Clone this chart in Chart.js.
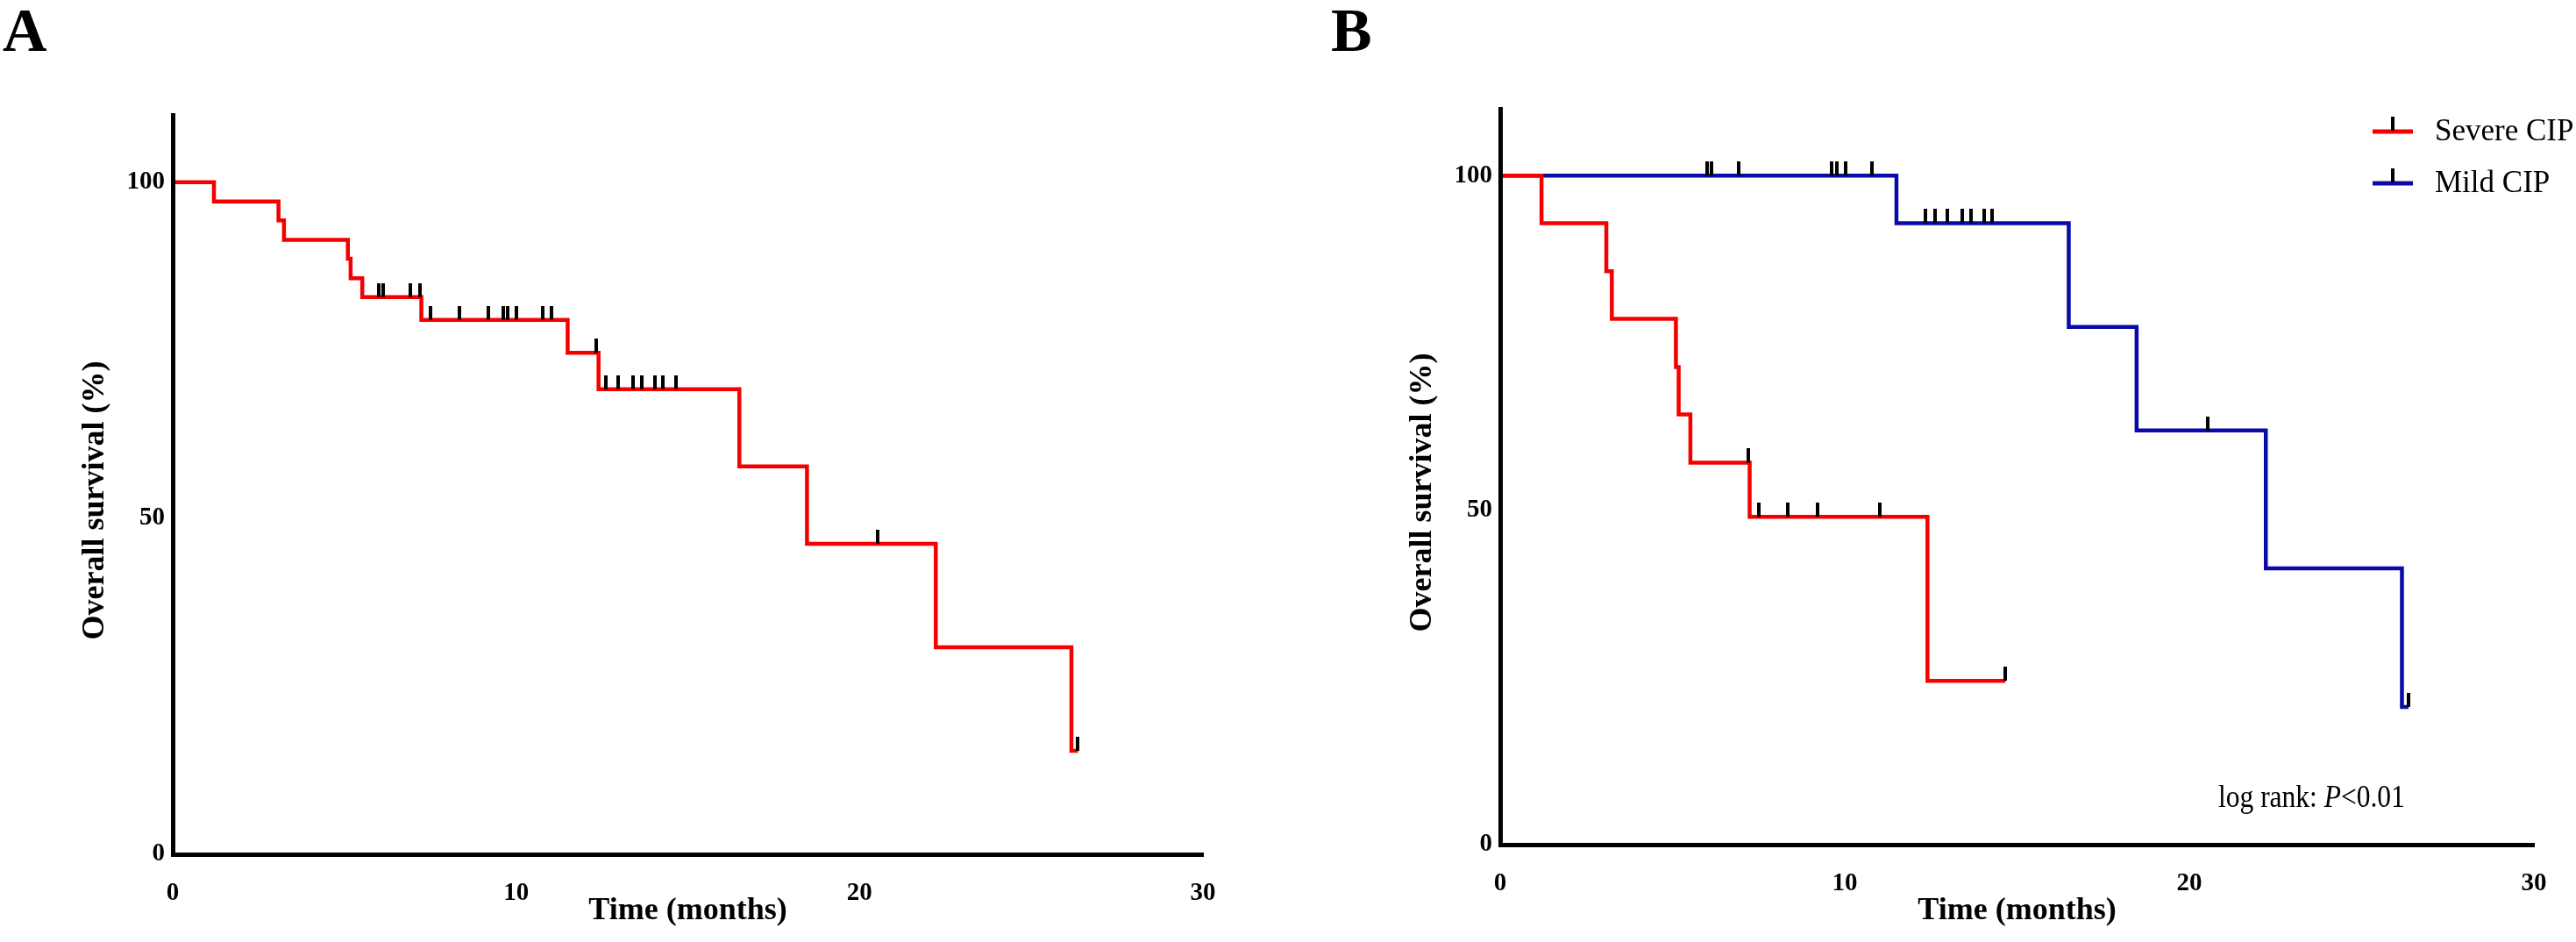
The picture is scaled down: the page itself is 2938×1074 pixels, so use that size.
<!DOCTYPE html>
<html>
<head>
<meta charset="utf-8">
<script src="https://cdn.jsdelivr.net/npm/chart.js@4.4.0/dist/chart.umd.min.js"></script>
<style>
  html, body { margin: 0; padding: 0; background: #fff; }
  #wrap { position: relative; width: 2938px; height: 1074px; background: #fff; overflow: hidden; }
  canvas { position: absolute; top: 0; }
  #cA { left: 0; }
  #cB { left: 1469px; }
</style>
</head>
<body>
<div id="wrap">
  <canvas id="cA" width="1469" height="1074"></canvas>
  <canvas id="cB" width="1469" height="1074"></canvas>
</div>
<script>
// ---------------- data ----------------
const xTicks = [0, 10, 20, 30];
const yTicks = [0, 50, 100];

// Panel A: all patients
const allTimes = [0, 1.2, 3.08, 3.24, 5.1, 5.18, 5.52, 7.24, 11.5, 12.4, 16.5, 18.47, 22.22, 26.17, 26.36];
const allSurv  = [100, 97.1, 94.3, 91.4, 88.6, 85.7, 82.9, 79.5, 74.6, 69.2, 57.7, 46.2, 30.8, 15.4, 15.4];
const allCensTimes = [6.0, 6.12, 6.93, 7.19, 7.5, 8.35, 9.2, 9.62, 9.76, 10.02, 10.78, 11.02, 12.34, 12.62, 12.98, 13.41, 13.67, 14.05, 14.28, 14.66, 20.53, 26.36];
const allCensSurv  = [82.9, 82.9, 82.9, 82.9, 79.5, 79.5, 79.5, 79.5, 79.5, 79.5, 79.5, 79.5, 74.6, 69.2, 69.2, 69.2, 69.2, 69.2, 69.2, 69.2, 46.2, 15.4];

// Panel B: Severe CIP
const sevTimes = [0, 1.2, 3.08, 3.24, 5.1, 5.18, 5.52, 7.24, 12.4, 14.66];
const sevSurv  = [100, 92.9, 85.7, 78.6, 71.4, 64.3, 57.1, 49.0, 24.5, 24.5];
const sevCensTimes = [7.19, 7.5, 8.35, 9.2, 11.02, 14.66];
const sevCensSurv  = [57.1, 49.0, 49.0, 49.0, 49.0, 24.5];

// Panel B: Mild CIP
const mildTimes = [0, 11.5, 16.5, 18.47, 22.22, 26.17, 26.36];
const mildSurv  = [100, 92.9, 77.4, 61.9, 41.3, 20.6, 20.6];
const mildCensTimes = [6.0, 6.12, 6.93, 9.62, 9.76, 10.02, 10.78, 12.34, 12.62, 12.98, 13.41, 13.67, 14.05, 14.28, 20.53, 26.36];
const mildCensSurv  = [100, 100, 100, 100, 100, 100, 100, 92.9, 92.9, 92.9, 92.9, 92.9, 92.9, 92.9, 61.9, 20.6];

const seriesLabels = ['Severe CIP', 'Mild CIP'];
const xTitle = 'Time (months)';
const yTitle = 'Overall survival (%)';
const pText = ['log rank: ', 'P', '<0.01'];

// ---------------- styling ----------------
const FONT = "'Liberation Serif', 'Times New Roman', Times, serif";
const RED = '#f40000';
const BLUE = '#0a0aa8';
Chart.defaults.font.family = FONT;
Chart.defaults.color = '#000';

function pts(xs, ys) { return xs.map((x, i) => ({ x: x, y: ys[i] })); }

// censor tick image: black bar in the upper half, so it rises from the point
const tick = document.createElement('canvas');
tick.width = 4; tick.height = 32;
(function () { const c = tick.getContext('2d'); c.fillStyle = '#000'; c.fillRect(0, 0, 4, 16); })();

function lineDs(label, data, color, order) {
  return { label, data, borderColor: color, backgroundColor: color, borderWidth: 4.5,
           stepped: 'before', pointRadius: 0, fill: false, tension: 0,
           borderJoinStyle: 'miter', borderCapStyle: 'butt', order };
}
function censDs(label, data) {
  return { label, data, showLine: false, pointStyle: tick, pointRadius: 8,
           pointHoverRadius: 8, order: 0 };
}

const annot = {
  id: 'annot',
  afterDraw(chart, args, o) {
    const ctx = chart.ctx, ca = chart.chartArea;
    ctx.save();
    ctx.fillStyle = '#000';
    // panel letter
    ctx.font = 'bold 70px ' + FONT;
    ctx.textAlign = 'left'; ctx.textBaseline = 'alphabetic';
    ctx.fillText(o.letter, ca.left + o.letterDx, 58);
    // y-axis title
    ctx.save();
    ctx.translate(ca.left - 88, (ca.top + ca.bottom) / 2 + 18);
    ctx.rotate(-Math.PI / 2);
    ctx.font = 'bold 36px ' + FONT;
    ctx.textAlign = 'center'; ctx.textBaseline = 'middle';
    ctx.fillText(yTitle, 0, 0);
    ctx.restore();
    if (o.legend) {
      const x0 = ca.right - 184;
      o.legend.forEach((it, i) => {
        const y = ca.top + 26 + i * 59;
        ctx.fillStyle = it.color;
        ctx.fillRect(x0, y - 2.5, 46, 5);
        ctx.fillStyle = '#000';
        ctx.fillRect(x0 + 21, y - 17, 4, 16);
        ctx.font = '35px ' + FONT;
        ctx.textAlign = 'left'; ctx.textBaseline = 'middle';
        ctx.fillText(it.label, x0 + 71, y + 1);
      });
    }
    if (o.pvalue) {
      ctx.save();
      ctx.translate(ca.left + 819, ca.bottom - 43);
      ctx.scale(0.9, 1);
      ctx.textAlign = 'left'; ctx.textBaseline = 'alphabetic';
      let x = 0;
      ctx.font = '35px ' + FONT; ctx.fillText(pText[0], x, 0); x += ctx.measureText(pText[0]).width;
      ctx.font = 'italic 35px ' + FONT; ctx.fillText(pText[1], x, 0); x += ctx.measureText(pText[1]).width;
      ctx.font = '35px ' + FONT; ctx.fillText(pText[2], x, 0);
      ctx.restore();
    }
    ctx.restore();
  }
};

function makeOptions(pad, yW, xH, annotOpts) {
  return {
    responsive: false, animation: false, events: [],
    layout: { padding: pad },
    plugins: { legend: { display: false }, tooltip: { enabled: false }, annot: annotOpts },
    scales: {
      x: {
        type: 'linear', min: xTicks[0], max: xTicks[xTicks.length - 1],
        afterFit: s => { s.height = xH; },
        afterBuildTicks: s => { s.ticks = xTicks.map(v => ({ value: v })); },
        grid: { display: false, drawTicks: false },
        border: { display: true, color: '#000', width: 5, z: 1 },
        ticks: { padding: 27, font: { size: 29, weight: 'bold' }, color: '#000', maxRotation: 0 },
        title: { display: true, text: xTitle, font: { size: 36, weight: 'bold' }, color: '#000',
                 padding: { top: 0, bottom: 14 } }
      },
      y: {
        type: 'linear', min: 0, max: 110,
        afterFit: s => { s.width = yW; },
        afterBuildTicks: s => { s.ticks = yTicks.map(v => ({ value: v })); },
        grid: { display: false, drawTicks: false },
        border: { display: true, color: '#000', width: 5, z: 1 },
        ticks: { padding: 9, font: { size: 29, weight: 'bold' }, color: '#000' },
        title: { display: false }
      }
    }
  };
}

new Chart(document.getElementById('cA'), {
  type: 'line',
  data: {
    datasets: [
      censDs('censored', pts(allCensTimes, allCensSurv)),
      lineDs('All patients', pts(allTimes, allSurv), RED, 1)
    ]
  },
  options: makeOptions({ left: 0, top: 131, right: 97, bottom: 0 }, 197, 100,
                       { letter: 'A', letterDx: -194 }),
  plugins: [annot]
});

new Chart(document.getElementById('cB'), {
  type: 'line',
  data: {
    datasets: [
      censDs('censored severe', pts(sevCensTimes, sevCensSurv)),
      censDs('censored mild', pts(mildCensTimes, mildCensSurv)),
      lineDs(seriesLabels[0], pts(sevTimes, sevSurv), RED, 1),
      lineDs(seriesLabels[1], pts(mildTimes, mildSurv), BLUE, 2)
    ]
  },
  options: makeOptions({ left: 0, top: 124, right: 48, bottom: 0 }, 242, 111,
                       { letter: 'B', letterDx: -193,
                         legend: [{ label: seriesLabels[0], color: RED }, { label: seriesLabels[1], color: BLUE }],
                         pvalue: true }),
  plugins: [annot]
});
</script>
</body>
</html>
